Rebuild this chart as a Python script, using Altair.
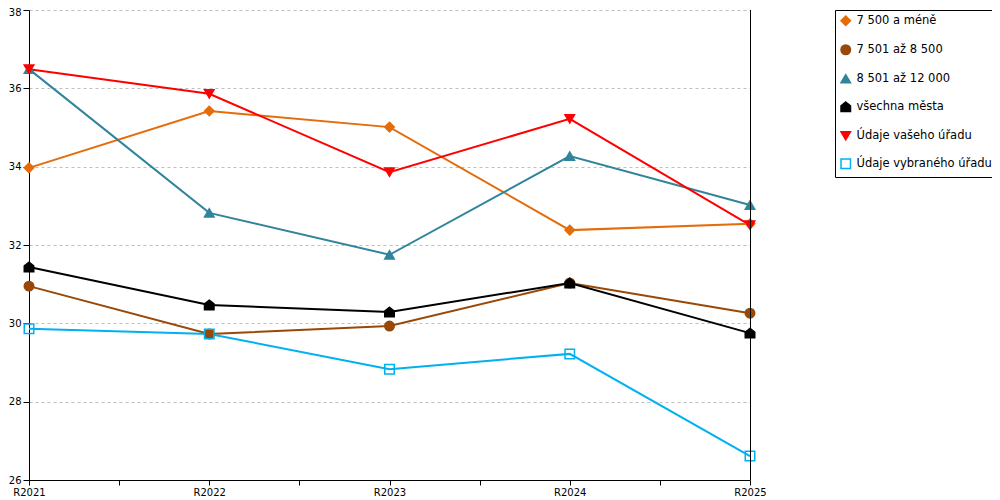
import altair as alt
import pandas as pd

categories = ["R2021", "R2022", "R2023", "R2024", "R2025"]
series_names = ["7 500 a méně", "7 501 až 8 500", "8 501 až 12 000",
                "všechna města", "Údaje vašeho úřadu", "Údaje vybraného úřadu"]
s_7500 = [33.97, 35.42, 35.01, 32.38, 32.54]
s_8500 = [30.95, 29.73, 29.93, 31.03, 30.26]
s_12000 = [36.49, 32.82, 31.75, 34.27, 33.02]
s_all = [31.44, 30.47, 30.29, 31.03, 29.75]
s_vas = [36.49, 35.86, 33.86, 35.22, 32.51]
s_vyb = [29.86, 29.73, 28.83, 29.22, 26.61]
y_ticks = [26, 28, 30, 32, 34, 36, 38]

colors = ["#E46C0A", "#984807", "#31849B", "#000000", "#FF0000", "#00B0F0"]
fills = ["#E46C0A", "#984807", "#31849B", "#000000", "#FF0000", "transparent"]
house = "M0,-1L1,-0.2L1,1L-1,1L-1,-0.2Z"
shapes = ["diamond", "circle", "triangle-up", house, "triangle-down", "square"]

rows = []
for name, vals in zip(series_names, [s_7500, s_8500, s_12000, s_all, s_vas, s_vyb]):
    for i, (c, v) in enumerate(zip(categories, vals)):
        rows.append({"series": name, "cat": c, "idx": i, "value": v})
df = pd.DataFrame(rows)

label_expr = "[" + ",".join("'%s'" % c for c in categories) + "][datum.value] || ''"

x_enc = alt.X("idx:Q", scale=alt.Scale(domain=[0, len(categories) - 1], nice=False, zero=False),
              axis=alt.Axis(title=None, values=[i * 0.5 for i in range(2 * len(categories) - 1)],
                            labelExpr=label_expr, grid=False, domainColor="black", tickColor="black",
                            tickSize=5, labelFontSize=10, labelColor="black", labelPadding=2,
                            labelFont="DejaVu Sans", labelFlush=False))
y_enc = alt.Y("value:Q", scale=alt.Scale(domain=[y_ticks[0], y_ticks[-1]], nice=False, zero=False),
              axis=alt.Axis(title=None, values=y_ticks, grid=True,
                            gridDash=[3, 3], gridColor="#BFBFBF", domainColor="black",
                            tickColor="black", tickSize=6, labelFontSize=10, labelColor="black",
                            labelPadding=2, labelFont="DejaVu Sans", labelFlush=False,
                            labelOffset={"condition": {"test": "datum.value == %d" % y_ticks[-1],
                                                       "value": 2}, "value": 0}))

stroke_scale = alt.Scale(domain=series_names, range=colors)
fill_scale = alt.Scale(domain=series_names, range=fills)
shape_scale = alt.Scale(domain=series_names, range=shapes)

legend = alt.Legend(title=None, orient="none", legendX=806, legendY=0, padding=5,
                    rowPadding=13, labelFontSize=11.5, labelFont="DejaVu Sans",
                    labelColor="black", strokeColor="black", fillColor="white",
                    symbolSize=90, symbolStrokeWidth=1.5, labelOffset=5, labelLimit=300)

base = alt.Chart(df)

lines = base.mark_line(strokeWidth=2).encode(
    x=x_enc, y=y_enc,
    stroke=alt.Stroke("series:N", scale=stroke_scale, legend=legend, sort=series_names),
    detail="series:N",
)

points = base.mark_point(size=90, strokeWidth=1.5, opacity=1).encode(
    x=x_enc, y=y_enc,
    stroke=alt.Stroke("series:N", scale=stroke_scale, legend=legend, sort=series_names),
    fill=alt.Fill("series:N", scale=fill_scale, legend=legend, sort=series_names),
    shape=alt.Shape("series:N", scale=shape_scale, legend=legend, sort=series_names),
)

right_line = alt.Chart(pd.DataFrame({"idx": [len(categories) - 1]})).mark_rule(
    color="black", strokeWidth=1, xOffset=0.5).encode(x=alt.X("idx:Q"))

chart = alt.layer(lines, points, right_line).properties(
    width=721, height=470,
    autosize=alt.AutoSizeParams(type="none"),
    padding={"left": 21, "top": 2, "right": 242, "bottom": 20},
).configure_view(stroke=None)

chart.save("out.html", embed_options={"renderer": "svg", "actions": False})
